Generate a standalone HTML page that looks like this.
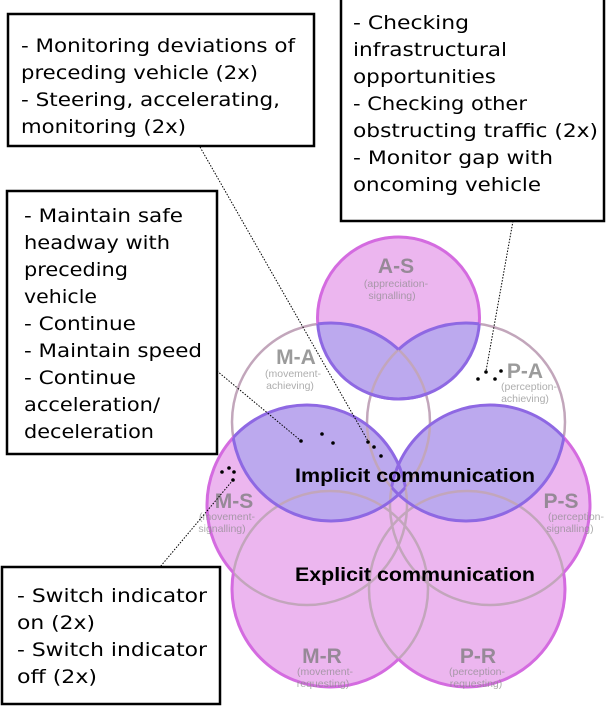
<!DOCTYPE html>
<html><head><meta charset="utf-8"><style>
html,body{margin:0;padding:0;background:#fff;}
svg{display:block;}
.t{font-family:"DejaVu Sans","Liberation Sans",sans-serif;font-size:19px;fill:#000;}
.lb{font-family:"Liberation Sans",sans-serif;font-weight:bold;font-size:21px;fill:#7a7a7a;fill-opacity:.75;text-anchor:middle;}
.sm{font-family:"Liberation Sans",sans-serif;font-size:10.5px;fill:#8a8a8a;fill-opacity:.7;text-anchor:middle;}
.big{font-family:"Liberation Sans",sans-serif;font-weight:bold;font-size:19.5px;fill:#000;}
</style></head><body>
<svg width="606" height="706" viewBox="0 0 606 706" xmlns="http://www.w3.org/2000/svg">
<defs>
<circle id="AS" cx="398.5" cy="318" r="81"/>
<circle id="MA" cx="331" cy="422" r="99"/>
<circle id="PA" cx="466" cy="422" r="99"/>
<circle id="MS" cx="307" cy="505" r="100"/>
<circle id="PS" cx="490" cy="505" r="100"/>
<circle id="MR" cx="330" cy="589" r="98"/>
<circle id="PR" cx="467" cy="589" r="98"/>
<clipPath id="cAS"><use href="#AS"/></clipPath>
<clipPath id="cMA"><use href="#MA"/></clipPath>
<clipPath id="cPA"><use href="#PA"/></clipPath>
<clipPath id="cMS"><use href="#MS"/></clipPath>
<clipPath id="cPS"><use href="#PS"/></clipPath>
<mask id="mAS" maskUnits="userSpaceOnUse" x="0" y="0" width="606" height="706"><rect width="606" height="706" fill="#fff"/><g fill="#000"><use href="#MA"/><use href="#PA"/></g></mask>
<mask id="mMS" maskUnits="userSpaceOnUse" x="0" y="0" width="606" height="706"><rect width="606" height="706" fill="#fff"/><g fill="#000"><use href="#MA"/><use href="#PS"/><use href="#MR"/><use href="#PR"/></g></mask>
<mask id="mPS" maskUnits="userSpaceOnUse" x="0" y="0" width="606" height="706"><rect width="606" height="706" fill="#fff"/><g fill="#000"><use href="#PA"/><use href="#MS"/><use href="#MR"/><use href="#PR"/></g></mask>
<mask id="mMR" maskUnits="userSpaceOnUse" x="0" y="0" width="606" height="706"><rect width="606" height="706" fill="#fff"/><g fill="#000"><use href="#MS"/><use href="#PS"/><use href="#PR"/></g></mask>
<mask id="mPR" maskUnits="userSpaceOnUse" x="0" y="0" width="606" height="706"><rect width="606" height="706" fill="#fff"/><g fill="#000"><use href="#MS"/><use href="#PS"/><use href="#MR"/></g></mask>
<mask id="nPA" maskUnits="userSpaceOnUse" x="0" y="0" width="606" height="706"><rect width="606" height="706" fill="#fff"/><use href="#PA" fill="#000"/></mask>
<mask id="nMA" maskUnits="userSpaceOnUse" x="0" y="0" width="606" height="706"><rect width="606" height="706" fill="#fff"/><use href="#MA" fill="#000"/></mask>
</defs>

<!-- fills -->
<g fill="#fff"><use href="#MA"/><use href="#PA"/></g>
<g fill="#ecb6ef"><use href="#AS"/><use href="#MS"/><use href="#PS"/><use href="#MR"/><use href="#PR"/></g>
<g fill="#bca9ee">
<g clip-path="url(#cMA)"><use href="#AS"/></g>
<g clip-path="url(#cPA)"><use href="#AS"/></g>
<g clip-path="url(#cMS)"><use href="#MA"/></g>
<g clip-path="url(#cPS)"><use href="#PA"/></g>
</g>
<!-- gray strokes -->
<g fill="none" stroke="#c2a6bb" stroke-width="2.5">
<use href="#AS"/><use href="#MA"/><use href="#PA"/><use href="#MS"/><use href="#PS"/><use href="#MR"/><use href="#PR"/>
</g>
<!-- pink outer strokes -->
<g fill="none" stroke="#d46be0" stroke-width="3">
<use href="#AS" mask="url(#mAS)"/>
<use href="#MS" mask="url(#mMS)"/>
<use href="#PS" mask="url(#mPS)"/>
<use href="#MR" mask="url(#mMR)"/>
<use href="#PR" mask="url(#mPR)"/>
</g>
<!-- blue strokes -->
<g fill="none" stroke="#8e68e3" stroke-width="3">
<g clip-path="url(#cMA)"><use href="#AS"/></g>
<g clip-path="url(#cPA)"><use href="#AS"/></g>
<g clip-path="url(#cAS)"><use href="#MA" mask="url(#nPA)"/></g>
<g clip-path="url(#cAS)"><use href="#PA" mask="url(#nMA)"/></g>
<g clip-path="url(#cMS)"><use href="#MA"/></g>
<g clip-path="url(#cMA)"><use href="#MS"/></g>
<g clip-path="url(#cPS)"><use href="#PA"/></g>
<g clip-path="url(#cPA)"><use href="#PS"/></g>
</g>

<!-- circle labels -->
<text class="lb" x="396" y="273">A-S</text>
<text class="sm" x="396" y="287">(appreciation-</text>
<text class="sm" x="392" y="299">signalling)</text>
<text class="lb" x="296" y="364">M-A</text>
<text class="sm" x="293" y="377">(movement-</text>
<text class="sm" x="290" y="389">achieving)</text>
<text class="lb" x="525" y="378">P-A</text>
<text class="sm" x="529" y="390">(perception-</text>
<text class="sm" x="525" y="402">achieving)</text>
<text class="lb" x="234" y="508">M-S</text>
<text class="sm" x="227" y="520">(movement-</text>
<text class="sm" x="222" y="532">signalling)</text>
<text class="lb" x="561" y="508">P-S</text>
<text class="sm" x="576" y="520">(perception-</text>
<text class="sm" x="570" y="532">signalling)</text>
<text class="lb" x="322" y="663">M-R</text>
<text class="sm" x="325" y="675">(movement-</text>
<text class="sm" x="323" y="687">requesting)</text>
<text class="lb" x="478" y="663">P-R</text>
<text class="sm" x="477" y="675">(perception-</text>
<text class="sm" x="476" y="687">requesting)</text>

<text class="big" x="295" y="482" textLength="240" lengthAdjust="spacingAndGlyphs">Implicit communication</text>
<text class="big" x="295" y="581" textLength="240" lengthAdjust="spacingAndGlyphs">Explicit communication</text>

<!-- connectors -->
<g stroke="#000" stroke-width="1" stroke-dasharray="1.5,1.5" fill="none">
<line x1="200" y1="147" x2="368" y2="441"/>
<line x1="217" y1="371" x2="300" y2="440"/>
<line x1="513" y1="221" x2="486" y2="371"/>
<line x1="233" y1="480" x2="160" y2="567"/>
</g>
<g fill="#000">
<circle cx="368" cy="442" r="1.8"/><circle cx="374" cy="447" r="1.8"/><circle cx="381" cy="456" r="1.8"/>
<circle cx="301" cy="441" r="1.8"/><circle cx="322" cy="434" r="1.8"/><circle cx="333" cy="443" r="1.8"/>
<circle cx="478" cy="379" r="1.8"/><circle cx="486" cy="372" r="1.8"/><circle cx="495" cy="379" r="1.8"/><circle cx="501" cy="371" r="1.8"/>
<circle cx="222" cy="472" r="1.8"/><circle cx="229" cy="468" r="1.8"/><circle cx="234" cy="472" r="1.8"/><circle cx="233" cy="480" r="1.8"/>
</g>

<!-- boxes -->
<g fill="#fff" stroke="#000" stroke-width="2.5">
<rect x="8" y="14" width="306" height="132"/>
<rect x="7" y="191" width="210" height="263"/>
<rect x="341" y="-2" width="263" height="223"/>
<rect x="2" y="567" width="218" height="137"/>
</g>
<g class="t">
<text x="21" y="52" textLength="274" lengthAdjust="spacingAndGlyphs">- Monitoring deviations of</text>
<text x="21" y="79" textLength="237" lengthAdjust="spacingAndGlyphs">preceding vehicle (2x)</text>
<text x="21" y="106" textLength="259" lengthAdjust="spacingAndGlyphs">- Steering, accelerating,</text>
<text x="21" y="133" textLength="165" lengthAdjust="spacingAndGlyphs">monitoring (2x)</text>

<text x="24" y="222" textLength="159" lengthAdjust="spacingAndGlyphs">- Maintain safe</text>
<text x="24" y="249" textLength="146" lengthAdjust="spacingAndGlyphs">headway with</text>
<text x="24" y="276" textLength="104" lengthAdjust="spacingAndGlyphs">preceding</text>
<text x="24" y="303" textLength="73" lengthAdjust="spacingAndGlyphs">vehicle</text>
<text x="24" y="330" textLength="112" lengthAdjust="spacingAndGlyphs">- Continue</text>
<text x="24" y="357" textLength="178" lengthAdjust="spacingAndGlyphs">- Maintain speed</text>
<text x="24" y="384" textLength="112" lengthAdjust="spacingAndGlyphs">- Continue</text>
<text x="24" y="411" textLength="136" lengthAdjust="spacingAndGlyphs">acceleration/</text>
<text x="24" y="438" textLength="130" lengthAdjust="spacingAndGlyphs">deceleration</text>

<text x="353" y="29" textLength="116" lengthAdjust="spacingAndGlyphs">- Checking</text>
<text x="353" y="56" textLength="154" lengthAdjust="spacingAndGlyphs">infrastructural</text>
<text x="353" y="83" textLength="143" lengthAdjust="spacingAndGlyphs">opportunities</text>
<text x="353" y="110" textLength="174" lengthAdjust="spacingAndGlyphs">- Checking other</text>
<text x="353" y="137" textLength="245" lengthAdjust="spacingAndGlyphs">obstructing traffic (2x)</text>
<text x="353" y="164" textLength="200" lengthAdjust="spacingAndGlyphs">- Monitor gap with</text>
<text x="353" y="191" textLength="188" lengthAdjust="spacingAndGlyphs">oncoming vehicle</text>

<text x="17" y="602" textLength="190" lengthAdjust="spacingAndGlyphs">- Switch indicator</text>
<text x="17" y="629" textLength="78" lengthAdjust="spacingAndGlyphs">on (2x)</text>
<text x="17" y="656" textLength="190" lengthAdjust="spacingAndGlyphs">- Switch indicator</text>
<text x="17" y="683" textLength="80" lengthAdjust="spacingAndGlyphs">off (2x)</text>
</g>
</svg>
</body></html>
